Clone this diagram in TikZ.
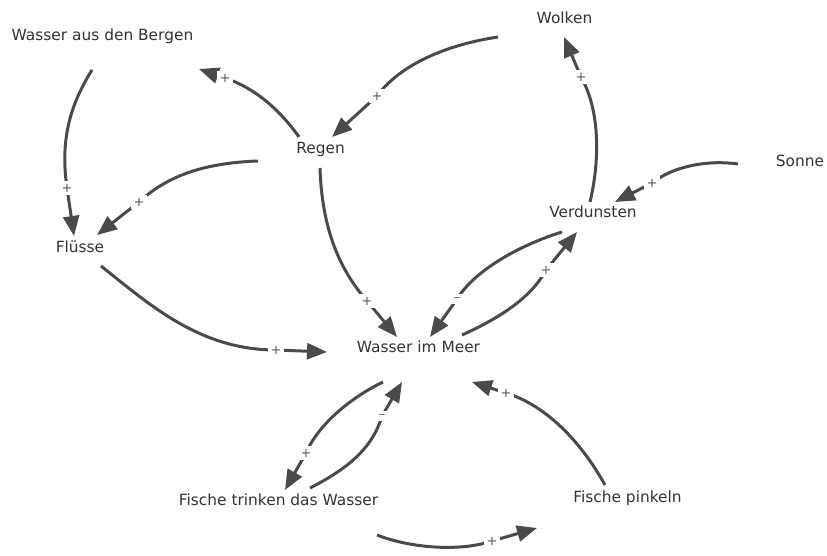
\documentclass[tikz,border=0pt]{standalone}
\usepackage{fontspec}
\setmainfont{DejaVu Sans}
\usetikzlibrary{arrows.meta}
\definecolor{linkgray}{HTML}{4A4A4A}
\definecolor{textgray}{HTML}{333333}
\definecolor{signgray}{HTML}{5A5A5A}
\begin{document}
\begin{tikzpicture}[x=1pt,y=-1pt,
  var/.style={anchor=base,inner sep=0pt,text=textgray,font=\fontsize{15.4}{18}\selectfont},
  link/.style={draw=linkgray,line width=3pt,-{Triangle[length=20pt,width=16pt]}},
  sign/.style={fill=white,inner sep=2.5pt,text=signgray,font=\fontsize{13}{14}\selectfont}]
% canvas
\path[use as bounding box,fill=white] (0,0) rectangle (827,556);

% variables
\node[var] (berg)   at (102.5,41) {Wasser aus den Bergen};
\node[var] (regen)  at (320.5,154) {Regen};
\node[var] (wolken) at (564.5,24) {Wolken};
\node[var] (sonne)  at (800,167) {Sonne};
\node[var] (verd)   at (593,218) {Verdunsten};
\node[var] (fluss)  at (80,252) {Flüsse};
\node[var] (meer)   at (418.5,352) {Wasser im Meer};
\node[var] (trink)  at (278.5,505) {Fische trinken das Wasser};
\node[var] (pink)   at (627.5,502) {Fische pinkeln};

% causal links: curve, sign in a gap, straight arrow to the target
\draw[link] ([shift={(-10.5,29)}]berg.base) .. controls (70,105) and (60,140) .. (67,188)
  node[sign]{+} -- ([shift={(-6,-16)}]fluss.base);
\draw[link] ([shift={(-62.5,7)}]regen.base) .. controls (200,163) and (165,178) .. (139,202)
  node[sign]{+} -- ([shift={(17,-17)}]fluss.base);
\draw[link] ([shift={(-21.5,-17)}]regen.base) .. controls (280,110) and (255,88) .. (225,78)
  node[sign]{+} -- ([shift={(96.5,28)}]berg.base);
\draw[link] ([shift={(-66.5,13)}]wolken.base) .. controls (445,45) and (400,65) .. (377,96)
  node[sign]{+} -- ([shift={(11.5,-17)}]regen.base);
\draw[link] ([shift={(-0.5,14)}]regen.base) .. controls (322,230) and (340,270) .. (367,301)
  node[sign]{+} -- ([shift={(-21.5,-15)}]meer.base);
\draw[link] ([shift={(21,14)}]fluss.base) .. controls (150,305) and (200,350) .. (276,350)
  node[sign]{+} -- ([shift={(-91.5,0)}]meer.base);
\draw[link] ([shift={(-3,-16)}]verd.base) .. controls (600,160) and (600,110) .. (581,77)
  node[sign]{+} -- ([shift={(-0.5,13)}]wolken.base);
\draw[link] ([shift={(-62,-3)}]sonne.base) .. controls (710,160) and (675,165) .. (652,183)
  node[sign]{+} -- ([shift={(22,-16)}]verd.base);
\draw[link] ([shift={(43.5,-17)}]meer.base) .. controls (495,320) and (530,300) .. (546,270)
  node[sign]{+} -- ([shift={(-16,14)}]verd.base);
\draw[link] ([shift={(-31,14)}]verd.base) .. controls (520,245) and (475,270) .. (457,299)
  node[sign]{–} -- ([shift={(11.5,-15)}]meer.base);
\draw[link] ([shift={(-35.5,30)}]meer.base) .. controls (350,398) and (318,425) .. (306,453)
  node[sign]{+} -- ([shift={(6.5,-15)}]trink.base);
\draw[link] ([shift={(31.5,-17)}]trink.base) .. controls (345,470) and (372,450) .. (382,416)
  node[sign]{–} -- ([shift={(-16.5,30)}]meer.base);
\draw[link] ([shift={(-22.5,-17)}]pink.base) .. controls (580,440) and (545,405) .. (506,393)
  node[sign]{+} -- ([shift={(53.5,30)}]meer.base);
\draw[link] ([shift={(98.5,30)}]trink.base) .. controls (410,548) and (460,552) .. (492,541)
  node[sign]{+} -- ([shift={(-90.5,26)}]pink.base);
\end{tikzpicture}
\end{document}
